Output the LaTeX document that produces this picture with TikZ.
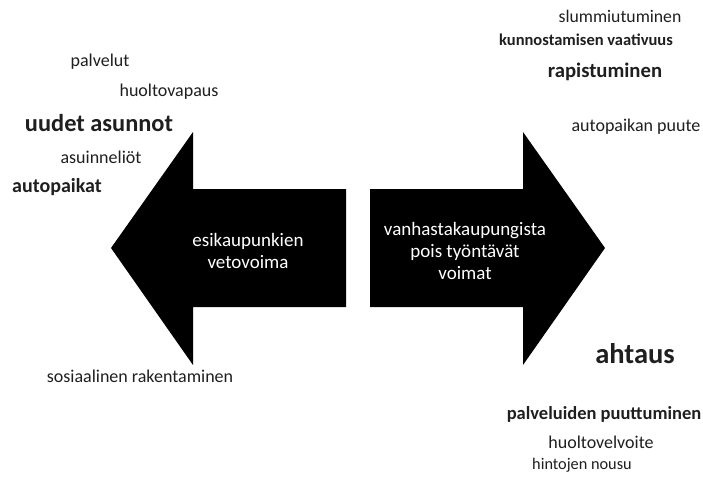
\documentclass[tikz,border=0pt]{standalone}
\usepackage{fontspec}
\setmainfont{Carlito}
\begin{document}
\begin{tikzpicture}[x=1pt,y=-1pt,
  lbl/.style={inner sep=0pt,anchor=center,text=black!88},
  small/.style={lbl,font=\fontsize{18}{22}\selectfont},
  arrowtext/.style={inner sep=0pt,anchor=center,align=center,text=white,font=\fontsize{19}{22}\selectfont},
  bigarrow/.style={fill=black,draw=none}]
\useasboundingbox[fill=white] (0,0) rectangle (703,476);
% arrows
\fill[bigarrow] (111,248) -- (193,132) -- (193,189) -- (346,189) -- (346,307) -- (193,307) -- (193,365) -- cycle;
\fill[bigarrow] (370,189) -- (523,189) -- (523,132) -- (605,248) -- (523,365) -- (523,307) -- (370,307) -- cycle;
\node[arrowtext] (pull) at (248,251) {esikaupunkien\\vetovoima};
\node[arrowtext] (push) at (465,250.5) {vanhastakaupungista\\pois työntävät\\voimat};
% left labels
\node[small] (palvelut) at (100,62) {palvelut};
\node[small] (huolto) at (169,92) {huoltovapaus};
\node[lbl,font=\bfseries\fontsize{24.4}{28}\selectfont] (uudet) at (99,123) {uudet asunnot};
\node[small] (neliot) at (101,157) {asuinneliöt};
\node[lbl,font=\bfseries\fontsize{20}{24}\selectfont] (autop) at (57,187) {autopaikat};
\node[small] (sosi) at (140,376) {sosiaalinen rakentaminen};
% right labels
\node[lbl,font=\fontsize{17.7}{22}\selectfont] (slum) at (620,16) {slummiutuminen};
\node[lbl,font=\bfseries\fontsize{16.5}{20}\selectfont] (kunn) at (586,40) {kunnostamisen vaativuus};
\node[lbl,font=\bfseries\fontsize{20.7}{24}\selectfont] (rap) at (605,72) {rapistuminen};
\node[small] (apuute) at (636,127) {autopaikan puute};
\node[lbl,font=\bfseries\fontsize{28.5}{32}\selectfont] (ahtaus) at (635,354) {ahtaus};
\node[lbl,font=\bfseries\fontsize{18.5}{22}\selectfont] (palpuut) at (604,414) {palveluiden puuttuminen};
\node[small] (hvelv) at (601,442) {huoltovelvoite};
\node[lbl,font=\fontsize{16.3}{20}\selectfont] (hinta) at (582,465) {hintojen nousu};
\end{tikzpicture}
\end{document}
